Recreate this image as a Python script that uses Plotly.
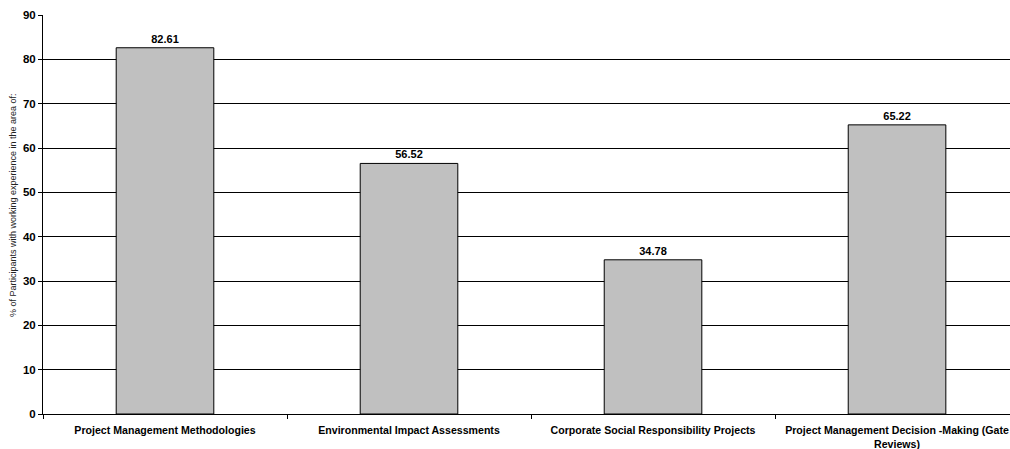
import plotly.graph_objects as go

categories = [
    "Project Management Methodologies",
    "Environmental Impact Assessments",
    "Corporate Social Responsibility Projects",
    "Project Management Decision -Making (Gate<br>Reviews)",
]
values = [82.61, 56.52, 34.78, 65.22]
y_ticks = [0, 10, 20, 30, 40, 50, 60, 70, 80, 90]
y_title = "% of Participants with working experience in the area of:"

fig = go.Figure()
fig.add_trace(go.Bar(
    x=categories,
    y=values,
    width=0.4,
    marker=dict(color="#C0C0C0", line=dict(color="black", width=1)),
    text=[f"{v:.2f}" for v in values],
    textposition="outside",
    textfont=dict(family="Liberation Sans, Arial", size=11, color="black", weight="bold"),
    cliponaxis=False,
))

fig.update_layout(
    width=1010, height=449,
    margin=dict(l=43, r=0, t=15, b=35),
    plot_bgcolor="white", paper_bgcolor="white",
    font=dict(family="Liberation Sans, Arial", color="black"),
    showlegend=False,
    bargap=0.6,
)
fig.update_xaxes(
    range=[-0.5, 3.463],
    showline=True, linecolor="black", linewidth=1,
    ticks="outside", tickson="boundaries", ticklen=4, tickcolor="black",
    tickfont=dict(size=10.6, weight="bold"),
    ticklabelstandoff=6,
    showgrid=False,
)
fig.update_yaxes(
    range=[0, 90],
    tickvals=y_ticks,
    showline=True, linecolor="black", linewidth=1,
    ticks="outside", ticklen=4, tickcolor="black",
    tickfont=dict(size=11.5, weight="bold"),
    showgrid=True, gridcolor="black", gridwidth=1,
    zeroline=False,
)
fig.add_annotation(
    text=y_title, textangle=-90,
    xref="paper", yref="paper",
    x=(13 - 43) / 967, y=(414 - 205) / 399,
    xanchor="center", yanchor="middle",
    showarrow=False,
    font=dict(size=9, color="#222222"),
)

fig.write_html("out.html")
